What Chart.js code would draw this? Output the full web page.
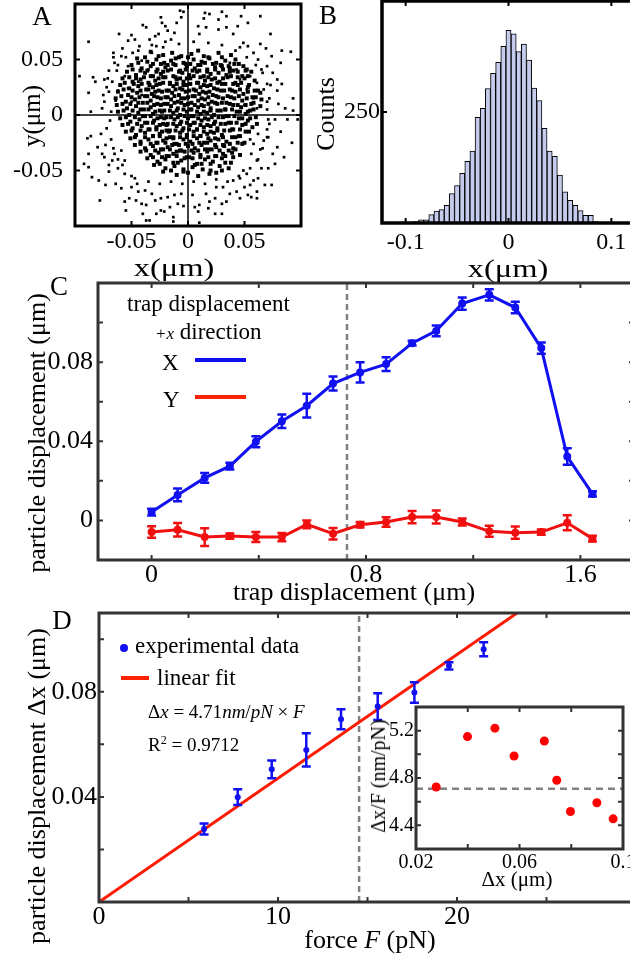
<!DOCTYPE html>
<html>
<head>
<meta charset="utf-8">
<script src="https://cdn.jsdelivr.net/npm/chart.js@4.4.1/dist/chart.umd.min.js"></script>
<style>
html, body { margin: 0; padding: 0; background: #fff; }
#fig { position: relative; width: 630px; height: 958px; overflow: hidden; background: #fff;
       font-family: 'Liberation Serif', 'Times New Roman', serif; color: #000; }
canvas { position: absolute; }
.t { position: absolute; white-space: nowrap; line-height: 1; transform: translate(-50%, -50%); }
.l { position: absolute; white-space: nowrap; line-height: 1; transform: translate(0, -50%); }
.r { transform: translate(-50%, -50%) rotate(-90deg); }
.sx { transform: translate(-50%, -50%) scaleX(1.3); }
.mk { position: absolute; }
</style>
</head>
<body>
<div id="fig">
  <canvas id="cA" width="310" height="270" style="left:0;top:0"></canvas>
  <canvas id="cB" width="345" height="270" style="left:310px;top:0"></canvas>
  <canvas id="cC" width="660" height="340" style="left:0;top:270px"></canvas>
  <canvas id="cD" width="660" height="358" style="left:0;top:600px"></canvas>
  <canvas id="cIn" width="290" height="190" style="left:360px;top:700px"></canvas>

  <div class="t" style="left:42px;top:16px;font-size:27px">A</div>
  <div class="t r" style="left:31px;top:116px;font-size:25px">y(μm)</div>
  <div class="t sx" style="left:174px;top:267px;font-size:25px">x(μm)</div>

  <div class="t" style="left:328px;top:15px;font-size:27px">B</div>
  <div class="t r" style="left:326px;top:114px;font-size:26px">Counts</div>
  <div class="t sx" style="left:508px;top:268px;font-size:25px">x(μm)</div>

  <div class="t" style="left:59px;top:286px;font-size:27px">C</div>
  <div class="t r" style="left:37px;top:433px;font-size:26px">particle displacement (μm)</div>
  <div class="t" style="left:354px;top:592px;font-size:26px">trap displacement (μm)</div>
  <div class="l" style="left:127px;top:303px;font-size:23px">trap displacement</div>
  <div class="l" style="left:155px;top:331px;font-size:23px"><span style="font-size:17px;font-style:italic">+x</span> direction</div>
  <div class="l" style="left:162px;top:362px;font-size:23px">X</div>
  <div class="l" style="left:163px;top:399px;font-size:23px">Y</div>
  <div class="mk" style="left:195px;top:358px;width:51px;height:4px;background:#1010f0"></div>
  <div class="mk" style="left:195px;top:395px;width:51px;height:4px;background:#ff2200"></div>

  <div class="t" style="left:62px;top:620px;font-size:27px">D</div>
  <div class="t r" style="left:37px;top:786px;font-size:26px">particle displacement Δx (μm)</div>
  <div class="t" style="left:370px;top:940px;font-size:26px">force <i>F</i> (pN)</div>
  <div class="mk" style="left:120px;top:644px;width:8px;height:8px;border-radius:50%;background:#1010f0"></div>
  <div class="l" style="left:135px;top:645px;font-size:23px">experimental data</div>
  <div class="mk" style="left:121px;top:676px;width:28px;height:4px;background:#ff2200"></div>
  <div class="l" style="left:157px;top:677px;font-size:23px">linear fit</div>
  <div class="l" style="left:148px;top:711px;font-size:19px">Δ<i>x</i> = 4.71<i>nm</i>/<i>pN</i> × <i>F</i></div>
  <div class="l" style="left:148px;top:744px;font-size:19px">R<span style="font-size:12px;vertical-align:7px">2</span> = 0.9712</div>
  <div class="t r" style="left:378px;top:776px;font-size:20px">Δx/F (nm/pN)</div>
  <div class="t" style="left:517px;top:879px;font-size:21px">Δx (μm)</div>
</div>

<script>
const SERIF = "'Liberation Serif', 'Times New Roman', serif";
const BLUE = '#1010f0';
const RED = '#f01010';

// A: x-y positions of the trapped bead, in nm (thousandths of a µm)
const scatterOuterNm = [
  [-96,35],[-88,66],[-88,20],[-84,34],[-82,30],[-74,32],[-71,33],[-74,12],[-70,21],[-66,56],[-61,73],[-65,47],[-59,53],[-58,60],
  [-53,67],[-50,72],[-47,68],[-40,81],[-37,79],[-29,71],[-24,88],[-23,83],[-20,80],[-10,83],[-7,94],[-4,93],[-6,88],[-12,74],
  [-63,40],[-67,30],[-62,22],[-76,6],[-64,13],[-53,44],[-49,56],[-43,62],[-34,68],[-26,73],[-18,76],[-15,68],[-41,49],[-32,56],
  [-56,35],[-53,24],[-44,30],[-50,12],[-41,18],[-35,41],[-22,61],[-28,62],[-68,3],[-86,3],
  [15,92],[19,91],[30,93],[34,89],[27,86],[14,87],[47,89],[64,89],[44,80],[53,83],[34,79],[27,77],[40,73],[73,73],[64,64],
  [69,60],[83,58],[91,57],[58,56],[74,53],[82,47],[70,44],[65,41],[75,38],[62,50],[53,62],[49,65],[46,61],[83,28],[79,22],
  [93,15],[86,6],[93,4],[70,12],[58,15],[67,23],[61,29],[55,35],[79,32],[73,27],[52,23],[46,32],[43,41],[37,47],[61,6],[50,9],
  [9,80],[10,73],[16,79],
  [-89,-21],[-86,-19],[-88,-35],[-92,-44],[-85,-56],[-79,-59],[-88,-47],[-77,-17],[-80,-29],[-73,-27],[-74,-38],[-67,-41],
  [-73,-63],[-78,-77],[-64,-62],[-59,-66],[-56,-78],[-52,-75],[-55,-86],[-46,-77],[-41,-80],[-37,-81],[-40,-89],[-37,-95],
  [-34,-95],[-28,-89],[-24,-86],[-21,-87],[-16,-83],[-13,-92],[-13,-96],[-9,-80],[-4,-82],[-32,-71],[-38,-68],[-44,-69],
  [-50,-65],[-47,-57],[-56,-53],[-62,-48],[-70,-51],[-65,-35],[-59,-32],[-56,-41],[-29,-77],[-24,-75],[-18,-74],[-12,-72],[-6,-71],
  [88,-4],[97,-4],[77,-4],[71,-4],[92,-25],[85,-38],[79,-29],[77,-44],[71,-20],[70,-13],[75,-35],[71,-48],[65,-48],[62,-57],
  [68,-63],[74,-63],[61,-69],[55,-63],[53,-72],[61,-75],[56,-74],[46,-75],[43,-69],[37,-71],[34,-78],[30,-80],[24,-75],[19,-78],
  [18,-84],[10,-81],[9,-87],[6,-83],[24,-89],[30,-89],[10,-97],[50,-65],[46,-57],[52,-53],[58,-59],[61,-41],[56,-35],[64,-31],
  [58,-26],[67,-23],[62,-17],[55,-22],[49,-50],[40,-59],[31,-65],[25,-65],[16,-71],[4,-72],
  [-70,40],[-72,25],[-75,18],[-69,-5],[-72,-12],[-68,-22],[-66,-30],[-62,-40],[-58,-45],[-50,-55],[-45,-62],[-35,-60],
  [-25,-62],[-15,-60],[-5,-62],[5,-60],[15,-62],[25,-58],[35,-60],[45,-55],[55,-48],[62,-40],[66,-30],[70,-20],[72,-8],
  [70,5],[72,15],[70,28],[66,38],[60,45],[52,52],[42,58],[30,63],[18,65],[5,66],[-8,64],[-20,66],[-32,63],[-44,58],
  [-55,52],[-62,45],[-66,52],[-76,-35],[-70,-45],[82,-15],[80,10]
];
const scatterCoreNm = [
  [-33,57],[-22,54],[-14,56],[-6,53],[3,55],[9,58],[18,52],[27,56],[38,54],
  [-45,51],[-36,48],[-28,50],[-21,47],[-15,49],[-8,52],[-2,46],[5,50],[12,48],[19,51],[25,47],[33,49],[42,50],
  [-50,45],[-41,42],[-33,44],[-27,41],[-20,43],[-13,46],[-7,40],[-1,44],[6,42],[11,45],[17,41],[24,43],[30,44],[37,42],[45,46],[52,41],
  [-54,39],[-46,36],[-38,38],[-31,35],[-24,37],[-18,40],[-11,34],[-5,38],[1,36],[8,39],[14,35],[20,37],[27,38],[34,36],[40,40],[48,35],[56,39],
  [-58,33],[-49,30],[-42,32],[-35,29],[-29,31],[-22,34],[-16,28],[-10,32],[-4,30],[2,33],[9,29],[15,31],[21,32],[28,30],[35,34],[42,29],[50,33],[59,31],
  [-60,27],[-52,24],[-44,26],[-37,23],[-31,25],[-25,28],[-19,22],[-13,26],[-7,24],[-1,27],[5,23],[11,25],[17,26],[23,24],[30,28],[37,23],[44,27],[53,25],[62,22],
  [-62,21],[-53,18],[-45,20],[-38,17],[-32,19],[-26,22],[-20,16],[-14,20],[-8,18],[-2,21],[4,17],[10,19],[16,20],[22,18],[29,22],[35,17],[42,21],[49,19],[57,16],[64,20],
  [-64,15],[-55,12],[-47,14],[-40,11],[-33,13],[-27,16],[-21,10],[-15,14],[-9,12],[-3,15],[3,11],[9,13],[15,14],[21,12],[27,16],[34,11],[41,15],[48,13],[56,10],[65,14],
  [-63,9],[-54,6],[-46,8],[-39,5],[-33,7],[-27,10],[-21,4],[-15,8],[-9,6],[-3,9],[3,5],[9,7],[14,8],[20,6],[26,10],[33,5],[40,9],[47,7],[55,4],[64,8],
  [-62,3],[-52,0],[-44,2],[-38,-1],[-31,1],[-25,4],[-19,-2],[-13,2],[-7,0],[-1,3],[5,-1],[11,1],[17,2],[23,0],[29,4],[36,-1],[43,3],[51,1],[60,-2],
  [-60,-3],[-51,-6],[-43,-4],[-36,-7],[-30,-5],[-24,-2],[-18,-8],[-12,-4],[-6,-6],[0,-3],[6,-7],[12,-5],[18,-4],[24,-6],[31,-2],[38,-7],[45,-3],[53,-5],[61,-8],
  [-58,-9],[-49,-12],[-41,-10],[-34,-13],[-28,-11],[-22,-8],[-16,-14],[-10,-10],[-4,-12],[2,-9],[8,-13],[14,-11],[20,-10],[26,-12],[33,-8],[40,-13],[48,-9],[57,-11],
  [-55,-15],[-46,-18],[-38,-16],[-31,-19],[-25,-17],[-19,-14],[-13,-20],[-7,-16],[-1,-18],[5,-15],[11,-19],[17,-17],[23,-16],[30,-18],[37,-14],[45,-19],[54,-15],
  [-51,-21],[-42,-24],[-35,-22],[-28,-25],[-22,-23],[-16,-20],[-10,-26],[-4,-22],[2,-24],[8,-21],[14,-25],[20,-23],[27,-22],[34,-24],[42,-20],[50,-25],
  [-47,-27],[-38,-30],[-31,-28],[-24,-31],[-18,-29],[-12,-26],[-6,-32],[0,-28],[6,-30],[12,-27],[18,-31],[25,-29],[32,-28],[40,-30],[48,-26],
  [-42,-33],[-33,-36],[-26,-34],[-19,-37],[-13,-35],[-7,-32],[-1,-38],[5,-34],[11,-36],[17,-33],[24,-37],[31,-35],[39,-34],[46,-36],
  [-36,-39],[-27,-42],[-20,-40],[-13,-43],[-6,-41],[1,-38],[8,-44],[15,-40],[22,-42],[30,-39],[38,-43],
  [-30,-45],[-20,-48],[-12,-46],[-4,-49],[4,-47],[12,-44],[20,-50],[28,-46],[36,-48],
  [-22,-51],[-10,-54],[0,-52],[9,-55],[19,-53],[30,-50],
  [-31,46],[-18,45],[-4,47],[9,45],[22,46],[36,44],
  [-36,40],[-28,39],[-15,41],[-8,39],[4,40],[17,39],[31,41],[44,39],
  [-39,34],[-26,33],[-13,35],[-1,33],[11,34],[24,33],[38,35],
  [-41,28],[-34,27],[-22,29],[-10,28],[-4,27],[8,29],[20,27],[33,28],[47,29],
  [-49,22],[-35,23],[-23,21],[-11,23],[1,22],[13,21],[26,23],[39,22],[53,21],
  [-50,16],[-36,17],[-24,15],[-12,17],[0,16],[12,15],[25,17],[38,16],[52,15],
  [-51,10],[-36,11],[-24,9],[-12,11],[0,10],[12,9],[24,11],[37,10],[51,9],
  [-49,4],[-35,5],[-23,3],[-10,4],[2,5],[14,3],[26,4],[39,5],[53,3],
  [-47,-2],[-33,-1],[-21,-3],[-9,-2],[3,-1],[15,-3],[27,-2],[41,-1],[55,-3],
  [-45,-8],[-31,-7],[-19,-9],[-7,-8],[5,-7],[17,-9],[29,-8],[43,-7],
  [-42,-14],[-28,-13],[-17,-15],[-5,-14],[8,-13],[20,-15],[32,-14],[46,-13],
  [-38,-20],[-25,-19],[-13,-21],[-1,-20],[11,-19],[24,-21],[39,-20],
  [-33,-26],[-20,-25],[-8,-27],[4,-26],[17,-25],[31,-27],[44,-25],
  [-29,-32],[-16,-31],[-3,-33],[9,-32],[21,-31],[36,-32],
  [-23,-38],[-10,-37],[4,-39],[18,-38],[33,-37],
  [-38,52],[-26,53],[-11,51],[0,52],[14,53],[30,52],
  [-44,47],[-24,46],[-11,45],[2,46],[15,47],[29,45],[41,46],[49,44],
  [-49,41],[-42,40],[-22,39],[-2,41],[10,40],[24,41],[37,39],[51,40],
  [-52,34],[-46,33],[-33,35],[-20,34],[-7,33],[5,35],[18,34],[31,33],[44,34],[53,35],
  [-56,29],[-48,28],[-28,27],[-16,29],[2,28],[14,27],[26,29],[40,28],[54,27],
  [-57,23],[-42,22],[-29,21],[-17,22],[-5,23],[7,22],[19,21],[32,22],[46,23],[59,22],
  [-59,17],[-43,16],[-30,17],[-18,16],[-6,15],[6,17],[18,16],[31,15],[45,17],[60,16],
  [-58,10],[-44,11],[-30,9],[-18,10],[-6,11],[6,9],[18,10],[30,11],[44,9],[58,11],
  [-57,4],[-42,5],[-29,3],[-16,4],[-4,5],[8,3],[20,4],[33,5],[46,3],[58,5],
  [-55,-2],[-40,-1],[-27,-3],[-15,-2],[-3,-1],[9,-3],[21,-2],[34,-1],[48,-3],
  [-53,-8],[-38,-7],[-25,-9],[-13,-8],[-1,-7],[11,-9],[23,-8],[36,-7],[51,-8],
  [-50,-14],[-35,-13],[-23,-15],[-11,-14],[1,-13],[14,-15],[26,-14],[39,-13],[51,-15],
  [-47,-20],[-31,-19],[-19,-21],[-7,-20],[5,-19],[18,-21],[31,-20],[46,-19],
  [-42,-26],[-27,-25],[-14,-27],[-2,-26],[10,-25],[24,-27],[37,-26],
  [-37,-32],[-22,-31],[-10,-33],[3,-32],[15,-31],[28,-32],[42,-31],
  [-31,-38],[-17,-37],[-3,-39],[11,-38],[25,-37],[40,-38],
  [-25,-44],[-9,-43],[6,-45],[20,-44],[33,-43],
  [-15,-50],[-4,-51],[13,-49],[25,-52]
];
const aTicks = [-0.05, 0, 0.05];
const aLabels = ['-0.05', '0', '0.05'];

// B: histogram of x positions
const histBins = [-0.1, -0.095, -0.09, -0.085, -0.08, -0.075, -0.07, -0.065, -0.06, -0.055, -0.05, -0.045, -0.04, -0.035,
  -0.03, -0.025, -0.02, -0.015, -0.01, -0.005, 0, 0.005, 0.01, 0.015, 0.02, 0.025, 0.03, 0.035, 0.04, 0.045, 0.05, 0.055,
  0.06, 0.065, 0.07, 0.075, 0.08, 0.085, 0.09, 0.095];
const histCounts = [1, 2, 3, 7, 7, 19, 27, 30, 40, 66, 84, 112, 139, 162, 238, 258, 303, 337, 362, 398, 434, 426, 386, 403,
  367, 304, 276, 213, 162, 150, 108, 70, 51, 40, 28, 17, 17, 3, 2, 2];
const bXTicks = [-0.1, 0, 0.1];
const bXLabels = ['-0.1', '0', '0.1'];
const bYTicks = [250];
const bYLabels = ['250'];

// C: particle vs trap displacement (µm)
const trapPos = [0, 0.097, 0.198, 0.292, 0.389, 0.486, 0.579, 0.677, 0.778, 0.875, 0.972, 1.062, 1.159, 1.26, 1.357, 1.454, 1.551, 1.645];
const partX = [0.0042, 0.0129, 0.0215, 0.0274, 0.0398, 0.0501, 0.058, 0.0692, 0.0748, 0.079, 0.0896, 0.0958, 0.1096, 0.114, 0.1076, 0.0871, 0.0323, 0.0134];
const partXErr = [0.0017, 0.0032, 0.0025, 0.0017, 0.0028, 0.0034, 0.006, 0.0035, 0.0051, 0.0035, 0.0012, 0.0027, 0.0031, 0.0028, 0.0029, 0.0028, 0.0042, 0.0013];
const partY = [-0.0059, -0.0047, -0.0084, -0.0079, -0.0084, -0.0084, -0.002, -0.0067, -0.0022, -0.0008, 0.0017, 0.0017, -0.0008, -0.0055, -0.0062, -0.0059, -0.0012, -0.0092];
const partYErr = [0.0029, 0.0034, 0.0045, 0.0013, 0.0025, 0.0021, 0.002, 0.0029, 0.0014, 0.0024, 0.0031, 0.0033, 0.0018, 0.0028, 0.0031, 0.0013, 0.0038, 0.0015];
const trapLimit = 0.729;
const cXTicks = [0, 0.4, 0.8, 1.2, 1.6];
const cXLabels = ['0', '', '0.8', '', '1.6'];
const cYTicks = [0, 0.02, 0.04, 0.06, 0.08, 0.1];
const cYLabels = ['0', '', '0.04', '', '0.08', ''];

// D: displacement vs force, with linear fit
const force = [5.87, 7.75, 9.65, 11.58, 13.52, 15.57, 17.62, 19.55, 21.49];
const dispX = [0.0278, 0.0399, 0.0505, 0.0579, 0.0696, 0.0744, 0.0797, 0.0899, 0.0962];
const dispXErr = [0.0021, 0.003, 0.0034, 0.0063, 0.0038, 0.0051, 0.0039, 0.0014, 0.0027];
const fitSlope = 4.71; // nm/pN
const forceLimit = 14.53;
const dXTicks = [0, 5, 10, 15, 20, 25];
const dXLabels = ['0', '', '10', '', '20', ''];
const dYTicks = [0.02, 0.04, 0.06, 0.08, 0.1];
const dYLabels = ['', '0.04', '', '0.08', ''];

// D inset: stiffness ratio dx/F (nm/pN)
const ratio = [4.724, 5.15, 5.221, 4.986, 5.113, 4.781, 4.517, 4.591, 4.455];
const inXTicks = [0.02, 0.04, 0.06, 0.08, 0.1];
const inXLabels = ['0.02', '', '0.06', '', '0.1'];
const inYTicks = [4.4, 4.6, 4.8, 5.0, 5.2];
const inYLabels = ['4.4', '', '4.8', '', '5.2'];

const errorBars = {
  id: 'errorBars',
  afterDatasetsDraw(chart) {
    const { ctx } = chart;
    const ys = chart.scales.y;
    chart.data.datasets.forEach((ds, i) => {
      if (!ds.errors) return;
      const meta = chart.getDatasetMeta(i);
      ctx.save();
      ctx.strokeStyle = ds.errColor;
      ctx.lineWidth = 2.5;
      ctx.beginPath();
      meta.data.forEach((pt, j) => {
        const v = ds.data[j].y, e = ds.errors[j];
        const top = ys.getPixelForValue(v + e), bot = ys.getPixelForValue(v - e);
        ctx.moveTo(pt.x, top); ctx.lineTo(pt.x, bot);
        ctx.moveTo(pt.x - 4.5, top); ctx.lineTo(pt.x + 4.5, top);
        ctx.moveTo(pt.x - 4.5, bot); ctx.lineTo(pt.x + 4.5, bot);
      });
      ctx.stroke();
      ctx.restore();
    });
  }
};

// box round the plot area with inward ticks on all four sides
const frame = {
  id: 'frame',
  afterDraw(chart, args, o) {
    const { ctx, chartArea: a, scales: { x, y } } = chart;
    const tl = o.tick || 5;
    ctx.save();
    ctx.strokeStyle = o.color;
    ctx.lineWidth = 2;
    ctx.beginPath();
    x.ticks.forEach(t => {
      const p = x.getPixelForValue(t.value);
      if (p <= a.left + 1 || p >= a.right - 1) return;
      ctx.moveTo(p, a.bottom); ctx.lineTo(p, a.bottom - tl);
      ctx.moveTo(p, a.top); ctx.lineTo(p, a.top + tl);
    });
    y.ticks.forEach(t => {
      const p = y.getPixelForValue(t.value);
      if (p <= a.top + 1 || p >= a.bottom - 1) return;
      ctx.moveTo(a.left, p); ctx.lineTo(a.left + tl, p);
      ctx.moveTo(a.right, p); ctx.lineTo(a.right - tl, p);
    });
    ctx.stroke();
    ctx.lineWidth = o.width;
    ctx.strokeRect(a.left, a.top, a.width, a.height);
    ctx.restore();
  }
};

function axis(min, max, ticks, labels, size, pad, fontSize) {
  return {
    type: 'linear', min, max, offset: false,
    grid: { display: false, drawTicks: false },
    border: { display: false },
    afterBuildTicks: s => { s.ticks = ticks.map(v => ({ value: v })); },
    afterFit: s => {
      if (s.isHorizontal()) s.height = size; else s.width = size;
      // keep the plot area where it is; edge labels may overhang
      s.paddingTop = s.paddingBottom = s.paddingLeft = s.paddingRight = 0;
    },
    ticks: {
      padding: pad, color: '#000', autoSkip: false, maxRotation: 0,
      font: { family: SERIF, size: fontSize },
      callback: (v, i) => labels[i]
    }
  };
}

function options(padding, x, y, frameOpts) {
  return {
    responsive: false, animation: false, events: [],
    layout: { padding },
    plugins: { legend: { display: false }, tooltip: { enabled: false }, frame: frameOpts },
    scales: { x, y }
  };
}

const toPts = (xs, ys) => xs.map((v, i) => ({ x: v, y: ys[i] }));
const nmPts = arr => arr.map(([x, y]) => ({ x: x / 1000, y: y / 1000 }));
const line = (color, width, dash) => ({ showLine: true, borderColor: color, borderWidth: width, borderDash: dash || [], pointRadius: 0 });

// A
new Chart(document.getElementById('cA'), {
  type: 'scatter',
  data: { datasets: [
    { data: nmPts(scatterCoreNm), pointStyle: 'rect', pointRadius: 2.8, backgroundColor: '#000', borderWidth: 0 },
    { data: nmPts(scatterOuterNm), pointStyle: 'rect', pointRadius: 1.9, backgroundColor: '#000', borderWidth: 0 },
    { data: [{ x: -0.1, y: 0 }, { x: 0.1, y: 0 }], ...line('#000', 1.5) },
    { data: [{ x: 0, y: -0.1 }, { x: 0, y: 0.1 }], ...line('#000', 1.5) }
  ] },
  options: options({ left: 0, top: 1, right: 9, bottom: 0 },
    axis(-0.1, 0.1, aTicks, aLabels, 44, 1, 24),
    axis(-0.1, 0.1, aTicks, aLabels, 75, 12, 24),
    { color: '#000', width: 3 }),
  plugins: [frame]
});

// B
new Chart(document.getElementById('cB'), {
  type: 'bar',
  data: { datasets: [{
    data: toPts(histBins, histCounts),
    backgroundColor: '#c5cbec', borderColor: '#000', borderWidth: 1,
    barPercentage: 1, categoryPercentage: 1
  }] },
  options: options({ left: 0, top: 1, right: 20, bottom: 0 },
    axis(-0.123, 0.123, bXTicks, bXLabels, 47, 5, 24),
    axis(0, 500, bYTicks, bYLabels, 72, 2, 24),
    { color: '#000', width: 3.5 }),
  plugins: [frame]
});

// C
new Chart(document.getElementById('cC'), {
  type: 'scatter',
  data: { datasets: [
    { data: toPts(trapPos, partX), errors: partXErr, errColor: BLUE, showLine: true, borderColor: BLUE, borderWidth: 3,
      pointRadius: 2.5, backgroundColor: BLUE },
    { data: toPts(trapPos, partY), errors: partYErr, errColor: RED, showLine: true, borderColor: RED, borderWidth: 3,
      pointRadius: 2.5, backgroundColor: RED },
    { data: [{ x: trapLimit, y: -0.02 }, { x: trapLimit, y: 0.12 }], ...line('#808080', 2.5, [6, 4]) }
  ] },
  options: options({ left: 0, top: 13, right: 26, bottom: 0 },
    axis(-0.2, 1.8, cXTicks, cXLabels, 50, 0, 26),
    axis(-0.02, 0.12, cYTicks, cYLabels, 98, 5, 26),
    { color: '#333', width: 3 }),
  plugins: [errorBars, frame]
});

// D
new Chart(document.getElementById('cD'), {
  type: 'scatter',
  data: { datasets: [
    { data: toPts(force, dispX), errors: dispXErr, errColor: BLUE, pointRadius: 3, backgroundColor: BLUE, borderWidth: 0 },
    { data: [{ x: 0, y: 0 }, { x: 30, y: fitSlope * 30 / 1000 }], ...line('#ff1a00', 3) },
    { data: [{ x: forceLimit, y: 0 }, { x: forceLimit, y: 0.11 }], ...line('#808080', 2.5, [6, 4]) }
  ] },
  options: options({ left: 0, top: 13, right: 24, bottom: 0 },
    axis(0, 30, dXTicks, dXLabels, 56, 0, 26),
    axis(0, 0.11, dYTicks, dYLabels, 99, 2, 26),
    { color: '#333', width: 3 }),
  plugins: [errorBars, frame]
});

// D inset
new Chart(document.getElementById('cIn'), {
  type: 'scatter',
  data: { datasets: [
    { data: toPts(dispX, ratio), pointRadius: 4.5, backgroundColor: '#ff0000', borderWidth: 0 },
    { data: [{ x: 0.02, y: fitSlope }, { x: 0.1, y: fitSlope }], ...line('#808080', 2.5, [7, 5]) }
  ] },
  options: options({ left: 0, top: 7, right: 27, bottom: 0 },
    axis(0.02, 0.1, inXTicks, inXLabels, 41, 2, 20),
    axis(4.2, 5.4, inYTicks, inYLabels, 56, 2, 20),
    { color: '#333', width: 3 }),
  plugins: [frame]
});
</script>
</body>
</html>
